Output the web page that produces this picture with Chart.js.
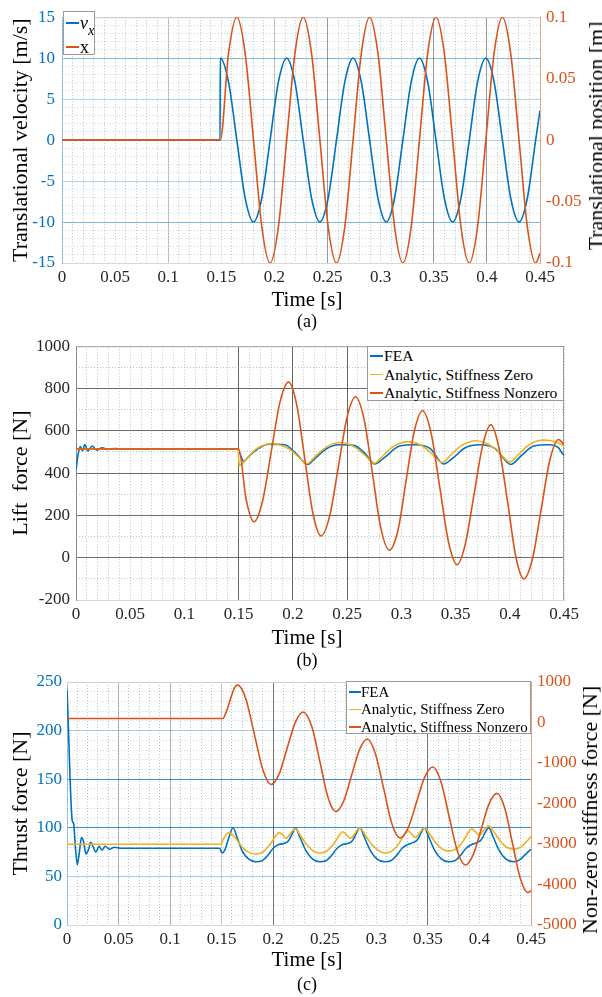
<!DOCTYPE html>
<html>
<head>
<meta charset="utf-8">
<script src="https://cdn.jsdelivr.net/npm/chart.js@4.4.1/dist/chart.umd.min.js"></script>
<style>
  html, body { margin: 0; padding: 0; background: #fff; }
  #page { position: relative; width: 602px; height: 997px; overflow: hidden; background: #fff;
          font-family: "Liberation Serif", "Times New Roman", "DejaVu Serif", serif; color: #262626; }
  canvas { position: absolute; left: 0; display: block; }
  .legend { position: absolute; background: #fff; border: 1px solid #9a9a9a; box-sizing: border-box; color: #000; }
  .legend .sw { position: absolute; height: 1.6px; }
  .legend .tx { position: absolute; white-space: nowrap; }
  .legend sub { font-size: 0.8em; vertical-align: -0.45em; line-height: 0; }
  .xt { position: absolute; transform: translate(-50%, -50%); white-space: nowrap; font-size: 21px; line-height: 21px; color: #000; }
  .cap { position: absolute; transform: translate(-50%, -50%); white-space: nowrap; font-size: 18px; line-height: 18px; color: #000; }
  .vt { position: absolute; transform: translate(-50%, -50%) rotate(-90deg); white-space: nowrap; font-size: 22px; line-height: 22px; color: #000; }
</style>
</head>
<body>
<div id="page">
  <canvas id="chartA" width="602" height="295" style="top:0px"></canvas>
  <canvas id="chartB" width="602" height="295" style="top:330px"></canvas>
  <canvas id="chartC" width="602" height="290" style="top:665px"></canvas>

  <div class="xt" style="left:307px;top:299px">Time [s]</div>
  <div class="cap" style="left:307px;top:321px">(a)</div>
  <div class="xt" style="left:307px;top:637px">Time [s]</div>
  <div class="cap" style="left:307px;top:660px">(b)</div>
  <div class="xt" style="left:307px;top:959px">Time [s]</div>
  <div class="cap" style="left:307px;top:984px">(c)</div>

  <div class="vt" style="left:596px;top:136px">Translational position [m]</div>
  <div class="vt" style="left:590px;top:810px">Non-zero stiffness force [N]</div>
</div>

<script>
// ---------- (a) translational velocity and position ----------
const timeA = [0, 0.1488, 0.149, 0.1568, 0.1646, 0.1724, 0.1803, 0.1881, 0.1959, 0.2037,
  0.2115, 0.2193, 0.2271, 0.2349, 0.2428, 0.2506, 0.2584, 0.2662, 0.274, 0.2818,
  0.2896, 0.2974, 0.3053, 0.3131, 0.3209, 0.3287, 0.3365, 0.3443, 0.3521, 0.3599,
  0.3678, 0.3756, 0.3834, 0.3912, 0.399, 0.4068, 0.4146, 0.4224, 0.4303, 0.4381,
  0.4459, 0.45];
const velocityX = [0, 0,
  10, 7.07, 0, -7.07, -10, -7.07, 0, 7.07,
  10, 7.07, 0, -7.07, -10, -7.07, 0, 7.07,
  10, 7.07, 0, -7.07, -10, -7.07, 0, 7.07,
  10, 7.07, 0, -7.07, -10, -7.07, 0, 7.07,
  10, 7.07, 0, -7.07, -10, -7.07, 0,
  3.6];
const positionX = [0, 0,
  0, 0.0707, 0.1, 0.0707, 0, -0.0707, -0.1, -0.0707,
  0, 0.0707, 0.1, 0.0707, 0, -0.0707, -0.1, -0.0707,
  0, 0.0707, 0.1, 0.0707, 0, -0.0707, -0.1, -0.0707,
  0, 0.0707, 0.1, 0.0707, 0, -0.0707, -0.1, -0.0707,
  0, 0.0707, 0.1, 0.0707, 0, -0.0707, -0.1,
  -0.092];

// ---------- (b) lift force ----------
const timeLiftFEA = [0, 0.002, 0.004, 0.006, 0.008, 0.011, 0.015, 0.019, 0.024, 0.029, 0.035, 0.045,
  0.149, 0.1515, 0.1545, 0.159, 0.168, 0.178, 0.1925, 0.203, 0.2137, 0.2205, 0.2313, 0.242,
  0.256, 0.2666, 0.2755, 0.284, 0.2985, 0.3126, 0.3267, 0.339, 0.3478, 0.3585, 0.3726,
  0.3866, 0.4008, 0.4114, 0.422, 0.436, 0.445, 0.4486, 0.45];
const liftFEA = [415, 490, 525, 505, 535, 505, 528, 508, 520, 512, 516, 514,
  514, 488, 456, 477, 516, 537, 534, 492, 441, 470, 516, 534,
  531, 492, 443, 472, 528, 534, 516, 443, 472, 519, 534,
  516, 441, 486, 528, 534, 519, 492, 485];

const timeLiftZero = [0, 0.1495, 0.1505, 0.158, 0.165, 0.173, 0.181, 0.189, 0.197, 0.205,
  0.2125, 0.2205, 0.2285, 0.236, 0.2435, 0.251, 0.259, 0.267, 0.275, 0.283,
  0.291, 0.2985, 0.306, 0.3135, 0.3215, 0.3295, 0.3375, 0.3455, 0.3535, 0.361,
  0.3685, 0.376, 0.384, 0.392, 0.40, 0.408, 0.416, 0.4235, 0.431, 0.4385, 0.445, 0.45];
const liftZero = [514, 514, 436, 470, 510, 532, 540, 532, 512, 478,
  444, 478, 515, 537, 545, 538, 517, 481, 447, 482,
  520, 541, 549, 542, 521, 484, 450, 485, 523, 545,
  553, 546, 524, 487, 452, 488, 527, 549, 556, 553, 542, 528];

const timeLiftNonzero = [0, 0.15, 0.157, 0.1642, 0.172, 0.18, 0.188, 0.196, 0.2035, 0.211,
  0.2185, 0.226, 0.234, 0.242, 0.25, 0.2578, 0.2656, 0.2734, 0.281, 0.289,
  0.297, 0.3044, 0.312, 0.3196, 0.3275, 0.3355, 0.3435, 0.3514, 0.359, 0.367,
  0.375, 0.3825, 0.39, 0.398, 0.4055, 0.413, 0.421, 0.429, 0.437, 0.445, 0.45];
const liftNonzero = [514, 514, 273, 170, 267, 500, 733, 830, 724, 466,
  209, 103, 199, 432, 665, 761, 655, 398, 142, 36,
  132, 365, 599, 695, 588, 331, 74, -33, 64, 297,
  531, 628, 521, 264, 7, -100, -4, 230, 463, 559, 535];

// ---------- (c) thrust force and non-zero stiffness force ----------
const timeThrustFEA = [0, 0.001, 0.003, 0.005, 0.0065, 0.008, 0.010, 0.012, 0.014, 0.016,
  0.0185, 0.021, 0.023, 0.0255, 0.028, 0.031, 0.034, 0.037, 0.041, 0.046,
  0.052, 0.148, 0.1505, 0.153, 0.157, 0.161, 0.165, 0.17, 0.176, 0.183,
  0.189, 0.195, 0.2, 0.206, 0.211, 0.215, 0.2185, 0.2215, 0.226, 0.232,
  0.238, 0.245, 0.251, 0.257, 0.262, 0.268, 0.273, 0.277, 0.2805, 0.284,
  0.2885, 0.2945, 0.3005, 0.308, 0.314, 0.32, 0.325, 0.331, 0.336, 0.34,
  0.3435, 0.3465, 0.351, 0.357, 0.363, 0.37, 0.376, 0.382, 0.387, 0.393,
  0.398, 0.402, 0.4055, 0.409, 0.4135, 0.4195, 0.4255, 0.433, 0.439, 0.445, 0.45];
const thrustFEA = [242, 215, 150, 108, 104, 82, 62, 75, 90, 86,
  73, 78, 85, 80, 75, 81, 77, 81, 78, 80,
  79, 79, 74, 77, 90, 100, 90, 76, 68, 65,
  66, 72, 79, 83, 84, 87, 94, 100, 90, 76,
  68, 65, 66, 72, 79, 83, 84, 87, 94, 100,
  90, 76, 68, 65, 66, 72, 79, 83, 85, 88,
  95, 100, 90, 76, 68, 65, 66, 72, 79, 83,
  85, 88, 95, 100, 90, 76, 68, 65, 67, 73, 78];

const timeThrustZero = [0, 0.1495, 0.151, 0.157, 0.163, 0.17, 0.176, 0.183, 0.19, 0.197,
  0.202, 0.2055, 0.209, 0.2125, 0.2165, 0.2215, 0.227, 0.233, 0.239, 0.245,
  0.252, 0.259, 0.264, 0.2675, 0.271, 0.275, 0.279, 0.284, 0.2895, 0.2955,
  0.3015, 0.308, 0.315, 0.322, 0.327, 0.3305, 0.334, 0.338, 0.342, 0.3465,
  0.352, 0.358, 0.364, 0.37, 0.377, 0.384, 0.389, 0.3925, 0.396, 0.4,
  0.404, 0.409, 0.4145, 0.4205, 0.4265, 0.433, 0.44, 0.445, 0.45];
const thrustZero = [83, 83, 87, 95, 90, 80, 75, 73, 75, 83,
  91, 95, 93, 89, 94, 99, 91, 82, 76, 74,
  76, 84, 92, 96, 93, 89, 94, 100, 92, 83,
  77, 74, 76, 84, 93, 97, 94, 90, 95, 100,
  93, 84, 78, 76, 78, 86, 95, 99, 96, 92,
  97, 102, 95, 86, 80, 78, 80, 85, 91];

const timeStiffForce = [0, 0.151, 0.155, 0.159, 0.1625, 0.1655, 0.1736, 0.1818, 0.19, 0.198,
  0.2058, 0.2135, 0.2213, 0.229, 0.2374, 0.2453, 0.253, 0.2607, 0.2684, 0.276,
  0.2837, 0.2913, 0.299, 0.3071, 0.315, 0.323, 0.331, 0.3389, 0.3468, 0.3547,
  0.3626, 0.3705, 0.3785, 0.3864, 0.394, 0.4017, 0.4093, 0.417, 0.4245, 0.432,
  0.4395, 0.447, 0.45];
const stiffForce = [100, 100, 300, 620, 860, 930, 570, -300, -1170, -1530,
  -1268, -635, -2, 260, -100, -970, -1840, -2200, -1937, -1303,
  -670, -407, -765, -1628, -2492, -2850, -2594, -1975, -1356, -1100,
  -1454, -2310, -3166, -3520, -3261, -2635, -2009, -1750, -2109, -2975,
  -3841, -4200, -4150];

// ---------- axis ranges: [min, max, major step, minor step] ----------
const timeRange = [0, 0.45, 0.05, 0.01];
const velocityRange = [-15, 15, 5, 1];
const positionRange = [-0.1, 0.1, 0.05];
const liftRange = [-200, 1000, 200, 100];
const thrustRange = [0, 250, 50, 10];
const stiffRange = [-5000, 1000, 1000];

// ---------- styling helpers ----------
const SERIF = '"Liberation Serif", "Times New Roman", "DejaVu Serif", serif';
const INK = '#262626';
const BLUE = '#0072BD', ORANGE = '#D95319', YELLOW = '#EDB120';
const tickFont = { family: SERIF, size: 17 };
const titleFont = { family: SERIF, size: 22 };

const fmt = v => String(Math.round(v * 1e6) / 1e6);
const near = (v, list) => list.some(u => Math.abs(u - v) < 1e-6);
const fixW = w => s => { s.width = w; };
const fixH = h => s => { s.height = h; };
const pts = (t, v) => t.map((x, i) => ({ x, y: v[i] }));

function series(label, t, v, color, axis, order) {
  return {
    label, data: pts(t, v), borderColor: color, backgroundColor: color,
    borderWidth: 1.6, pointRadius: 0, pointHoverRadius: 0, fill: false,
    cubicInterpolationMode: 'monotone', yAxisID: axis, order
  };
}

function timeAxis(height, pad, colorFn) {
  return {
    type: 'linear', position: 'bottom', min: timeRange[0], max: timeRange[1],
    afterFit: fixH(height),
    ticks: { stepSize: timeRange[2], color: INK, font: tickFont, padding: pad,
             maxRotation: 0, autoSkip: false, callback: fmt },
    grid: { drawTicks: false, lineWidth: 1, color: c => colorFn(c.tick.value) },
    border: { color: '#d6d6d6' }
  };
}

function minorAxis(pos, range, step, color) {
  const horiz = pos === 'bottom';
  return {
    type: 'linear', position: pos, min: range[0], max: range[1],
    afterFit: horiz ? fixH(0) : fixW(0),
    ticks: { display: false, stepSize: step },
    grid: { color, lineWidth: 1, drawTicks: false },
    border: { display: false, dash: [1, 2] }
  };
}

function valueAxis(pos, range, width, pad, tickColor, borderColor, gridFn, title) {
  const ax = {
    type: 'linear', position: pos, min: range[0], max: range[1],
    afterFit: fixW(width),
    ticks: { stepSize: range[2], color: tickColor, font: tickFont, padding: pad, callback: fmt },
    grid: gridFn ? { drawTicks: false, lineWidth: 1, color: c => gridFn(c.tick.value) }
                 : { drawTicks: false, drawOnChartArea: false },
    border: { color: borderColor }
  };
  if (title) {
    ax.title = { display: true, text: title, color: '#000', font: titleFont, padding: { top: 8, bottom: 0 } };
  }
  return ax;
}

// light box edge along the top and right of the plotting area
const frame = {
  id: 'frame',
  beforeDatasetsDraw(chart, args, opts) {
    const { ctx, chartArea: a } = chart;
    ctx.save();
    ctx.strokeStyle = opts.color || '#bdbdbd';
    ctx.lineWidth = 1;
    ctx.beginPath();
    ctx.moveTo(a.left, a.top + 0.5); ctx.lineTo(a.right, a.top + 0.5);
    if (opts.right) { ctx.moveTo(a.right - 0.5, a.top); ctx.lineTo(a.right - 0.5, a.bottom); }
    ctx.stroke();
    ctx.restore();
  }
};

const base = {
  responsive: false, animation: false, events: [],
  plugins: { legend: { display: false }, tooltip: { enabled: false } }
};

// ---------- chart (a) ----------
const chartA = new Chart(document.getElementById('chartA'), {
  type: 'line',
  data: { datasets: [
    series('v_x', timeA, velocityX, BLUE, 'y', 1),
    series('x', timeA, positionX, ORANGE, 'y1', 0)
  ]},
  options: {
    ...base,
    layout: { padding: { top: 8, left: 0, right: 0, bottom: 0 } },
    plugins: { ...base.plugins, frame: { color: '#cfcfcf' } },
    scales: {
      x: timeAxis(32, 4, v => near(v, [0.25, 0.35, 0.4]) ? 'rgba(80,80,80,0.55)'
                         : near(v, [0.1, 0.2]) ? 'rgba(110,110,110,0.35)' : 'rgba(0,0,0,0)'),
      xm: minorAxis('bottom', timeRange, timeRange[3], 'rgba(110,110,110,0.42)'),
      y: valueAxis('left', velocityRange, 62, 7, BLUE, 'rgba(0,114,189,0.35)',
                   v => near(v, [10, -10]) ? 'rgba(0,114,189,0.45)' : 'rgba(0,114,189,0.25)',
                   'Translational velocity [m/s]'),
      ym: minorAxis('left', velocityRange, velocityRange[3], 'rgba(0,114,189,0.25)'),
      y1: valueAxis('right', positionRange, 62, 6, ORANGE, 'rgba(217,83,25,0.45)', null, null)
    }
  },
  plugins: [frame]
});

// ---------- chart (b) ----------
const chartB = new Chart(document.getElementById('chartB'), {
  type: 'line',
  data: { datasets: [
    series('FEA', timeLiftFEA, liftFEA, BLUE, 'y', 2),
    series('Analytic, Stiffness Zero', timeLiftZero, liftZero, YELLOW, 'y', 1),
    series('Analytic, Stiffness Nonzero', timeLiftNonzero, liftNonzero, ORANGE, 'y', 0)
  ]},
  options: {
    ...base,
    layout: { padding: { top: 13, left: 0, right: 38, bottom: 0 } },
    plugins: { ...base.plugins, frame: { color: '#9f9f9f', right: true } },
    scales: {
      x: timeAxis(25, 4, v => near(v, [0.15, 0.2, 0.25]) ? 'rgba(60,60,60,0.8)' : 'rgba(0,0,0,0)'),
      xm: minorAxis('bottom', timeRange, timeRange[3], 'rgba(110,110,110,0.42)'),
      y: valueAxis('left', liftRange, 76, 6, INK, '#8a8a8a',
                   v => near(v, [1000, -200]) ? 'rgba(0,0,0,0)' : 'rgba(60,60,60,0.75)',
                   'Lift  force [N]'),
      ym: minorAxis('left', liftRange, liftRange[3], 'rgba(110,110,110,0.42)')
    }
  },
  plugins: [frame]
});

// ---------- chart (c) ----------
const chartC = new Chart(document.getElementById('chartC'), {
  type: 'line',
  data: { datasets: [
    series('FEA', timeThrustFEA, thrustFEA, BLUE, 'y', 2),
    series('Analytic, Stiffness Zero', timeThrustZero, thrustZero, YELLOW, 'y', 1),
    series('Analytic, Stiffness Nonzero', timeStiffForce, stiffForce, ORANGE, 'y1', 0)
  ]},
  options: {
    ...base,
    layout: { padding: { top: 17, left: 0, right: 0, bottom: 0 } },
    plugins: { ...base.plugins, frame: { color: '#cfcfcf' } },
    scales: {
      x: timeAxis(30, 4, v => near(v, [0.2, 0.35]) ? 'rgba(60,60,60,0.7)'
                         : near(v, [0.05, 0.1]) ? 'rgba(100,100,100,0.45)'
                         : near(v, [0.15]) ? 'rgba(120,120,120,0.3)' : 'rgba(0,0,0,0)'),
      xm: minorAxis('bottom', timeRange, timeRange[3], 'rgba(110,110,110,0.42)'),
      y: valueAxis('left', thrustRange, 67, 5, BLUE, 'rgba(0,114,189,0.35)',
                   v => near(v, [150, 100]) ? 'rgba(0,114,189,0.75)'
                      : near(v, [200, 50]) ? 'rgba(0,114,189,0.3)' : 'rgba(0,0,0,0)',
                   'Thrust force [N]'),
      ym: minorAxis('left', thrustRange, thrustRange[3], 'rgba(0,114,189,0.25)'),
      y1: valueAxis('right', stiffRange, 71, 6, ORANGE, 'rgba(217,83,25,0.5)', null, null)
    }
  },
  plugins: [frame]
});

// ---------- legends (boxed, inside the plotting areas) ----------
function legend(chart, spec) {
  const page = document.getElementById('page');
  const box = document.createElement('div');
  box.className = 'legend';
  Object.assign(box.style, { left: spec.left + 'px', top: spec.top + 'px',
    width: spec.width + 'px', height: spec.height + 'px', fontSize: spec.size + 'px' });
  chart.data.datasets.forEach((ds, i) => {
    const y = spec.rows[i];
    const sw = document.createElement('div');
    sw.className = 'sw';
    Object.assign(sw.style, { left: spec.swX + 'px', width: spec.swW + 'px',
      top: (y - 0.8) + 'px', background: ds.borderColor });
    const tx = document.createElement('div');
    tx.className = 'tx';
    Object.assign(tx.style, { left: spec.textX + 'px', top: (y - spec.size / 2) + 'px',
      lineHeight: spec.size + 'px' });
    if (spec.html && spec.html[i]) tx.innerHTML = spec.html[i];
    else tx.textContent = ds.label;
    box.append(sw, tx);
  });
  page.appendChild(box);
}

legend(chartA, { left: 63, top: 11, width: 32, height: 44, size: 18,
  rows: [11, 35], swX: 2, swW: 13, textX: 16,
  html: ['<i>v</i><sub><i>x</i></sub>', 'x'] });
legend(chartB, { left: 367, top: 346, width: 197, height: 55, size: 15.6,
  rows: [9, 27.5, 46], swX: 2, swW: 13, textX: 16 });
legend(chartC, { left: 346, top: 681, width: 185, height: 53, size: 15,
  rows: [10, 27.5, 45], swX: 2, swW: 12, textX: 14 });
</script>
</body>
</html>
